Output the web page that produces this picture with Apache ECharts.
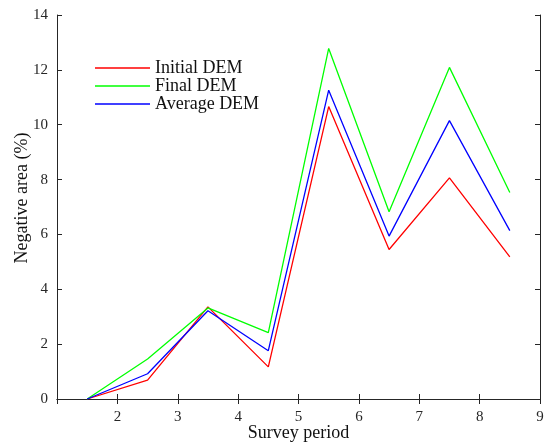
<!DOCTYPE html>
<html>
<head>
<meta charset="utf-8">
<script src="https://cdn.jsdelivr.net/npm/echarts@6/dist/echarts.min.js"></script>
<style>
body{margin:0;background:#fff}
#chart{width:547px;height:442px}
</style>
</head>
<body>
<div id="chart"></div>
<script>
var periods = [1.5, 2.5, 3.5, 4.5, 5.5, 6.5, 7.5, 8.5];
var initialDem = [0, 0.69, 3.36, 1.17, 10.66, 5.45, 8.06, 5.18];
var finalDem = [0, 1.46, 3.32, 2.42, 12.78, 6.83, 12.09, 7.53];
var averageDem = [0, 0.92, 3.22, 1.76, 11.26, 5.94, 10.15, 6.14];

function pairs(vals) {
    return periods.map(function (p, i) { return [p, vals[i]]; });
}

var chart = echarts.init(document.getElementById('chart'));
var axisColor = '#262626';
var font = 'Liberation Serif, Times New Roman, serif';

var option = {
    animation: false,
    grid: { left: 57, right: 7, top: 15, bottom: 43, outerBoundsMode: 'none' },
    legend: {
        orient: 'vertical',
        left: 95,
        top: 59,
        padding: 0,
        icon: 'rect',
        itemWidth: 55,
        itemHeight: 1.5,
        itemGap: 0,
        textStyle: { fontFamily: font, fontSize: 18, color: '#111', lineHeight: 17 },
        data: ['Initial DEM', 'Final DEM', 'Average DEM']
    },
    xAxis: [{
        type: 'value', min: 1, max: 9, interval: 1,
        name: 'Survey period', nameLocation: 'middle', nameGap: 25, nameMoveOverlap: false,
        nameTextStyle: { fontFamily: font, fontSize: 18, color: '#111' },
        axisLine: { lineStyle: { color: axisColor, width: 1 } },
        axisTick: { inside: true, length: 5, lineStyle: { color: axisColor } },
        axisLabel: {
            fontFamily: font, fontSize: 15, color: '#262626', margin: 11,
            formatter: function (v) { return v === 1 ? '' : v; }
        },
        splitLine: { show: false }
    }, {
        type: 'value', min: 1, max: 9, interval: 1, position: 'top',
        axisLine: { show: true, lineStyle: { color: axisColor, width: 1 } },
        axisTick: { inside: true, length: 5, lineStyle: { color: axisColor } },
        axisLabel: { show: false },
        splitLine: { show: false }
    }],
    yAxis: [{
        type: 'value', min: 0, max: 14, interval: 2,
        name: 'Negative area (%)', nameLocation: 'middle', nameGap: 26, nameMoveOverlap: false,
        nameTextStyle: { fontFamily: font, fontSize: 18, color: '#111', padding: [0, 0, 0, 18] },
        axisLine: { show: true, lineStyle: { color: axisColor, width: 1 } },
        axisTick: { show: true, inside: true, length: 5, lineStyle: { color: axisColor } },
        axisLabel: { fontFamily: font, fontSize: 15, color: '#262626', margin: 9 },
        splitLine: { show: false }
    }, {
        type: 'value', min: 0, max: 14, interval: 2, position: 'right',
        axisLine: { show: true, lineStyle: { color: axisColor, width: 1 } },
        axisTick: { show: true, inside: true, length: 5, lineStyle: { color: axisColor } },
        axisLabel: { show: false },
        splitLine: { show: false }
    }],
    series: [{
        name: 'Initial DEM', type: 'line', symbol: 'none',
        lineStyle: { color: '#ff0000', width: 1.3 }, itemStyle: { color: '#ff0000' },
        data: pairs(initialDem)
    }, {
        name: 'Final DEM', type: 'line', symbol: 'none',
        lineStyle: { color: '#00ff00', width: 1.3 }, itemStyle: { color: '#00ff00' },
        data: pairs(finalDem)
    }, {
        name: 'Average DEM', type: 'line', symbol: 'none',
        lineStyle: { color: '#0000ff', width: 1.3 }, itemStyle: { color: '#0000ff' },
        data: pairs(averageDem)
    }]
};
chart.setOption(option);
</script>
</body>
</html>
